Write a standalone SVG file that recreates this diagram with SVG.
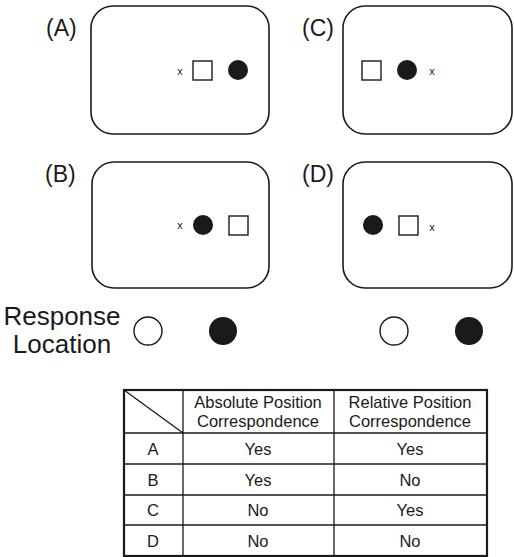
<svg xmlns="http://www.w3.org/2000/svg" width="514" height="557" viewBox="0 0 514 557">
<style>
text{font-family:"Liberation Sans",Arial,sans-serif;fill:#1a1a1a}
.lbl{font-size:23px}
.x{font-size:11px;text-anchor:middle}
.screen{fill:none;stroke:#1a1a1a;stroke-width:1.6}
.sq{fill:#fff;stroke:#1a1a1a;stroke-width:1.4}
.dot{fill:#1a1a1a}
.open{fill:#fff;stroke:#1a1a1a;stroke-width:1.4}
.resp{font-size:26px;text-anchor:middle}
.th{font-size:16.5px;text-anchor:middle}
.td{font-size:16.5px;text-anchor:middle}
.grid{stroke:#1a1a1a;stroke-width:1.3;fill:none}
</style>
<rect width="514" height="557" fill="#fff"/>
<g id="panelA">
<text class="lbl" x="46" y="36">(A)</text>
<rect class="screen" x="91" y="6" width="178" height="128" rx="22"/>
<text class="x" x="180" y="75">x</text>
<rect class="sq" x="193" y="61" width="19" height="19"/>
<circle class="dot" cx="238" cy="70" r="10"/>
</g>
<g id="panelB">
<text class="lbl" x="45" y="182">(B)</text>
<rect class="screen" x="92" y="162" width="177" height="126" rx="22"/>
<text class="x" x="180" y="229">x</text>
<circle class="dot" cx="203" cy="225" r="10"/>
<rect class="sq" x="229" y="216" width="19" height="19"/>
</g>
<g id="panelC">
<text class="lbl" x="302" y="36">(C)</text>
<rect class="screen" x="343" y="6" width="169" height="128" rx="22"/>
<rect class="sq" x="362" y="61" width="19" height="19"/>
<circle class="dot" cx="407" cy="70" r="10"/>
<text class="x" x="432" y="75">x</text>
</g>
<g id="panelD">
<text class="lbl" x="302" y="182">(D)</text>
<rect class="screen" x="343" y="162" width="169" height="126" rx="22"/>
<circle class="dot" cx="373" cy="225" r="10"/>
<rect class="sq" x="399" y="216" width="19" height="19"/>
<text class="x" x="432" y="231">x</text>
</g>
<g id="response">
<text class="resp" x="62" y="325">Response</text>
<text class="resp" x="62" y="353">Location</text>
<circle class="open" cx="148" cy="331" r="14"/>
<circle class="dot" cx="223" cy="331" r="14"/>
<circle class="open" cx="394" cy="331" r="14"/>
<circle class="dot" cx="469" cy="331" r="14"/>
</g>
<g id="table">
<rect x="124" y="390" width="363" height="166" fill="none" stroke="#1a1a1a" stroke-width="2.2"/>
<line class="grid" x1="183" y1="390" x2="183" y2="556"/>
<line class="grid" x1="334" y1="390" x2="334" y2="556"/>
<line class="grid" x1="124" y1="433" x2="487" y2="433"/>
<line class="grid" x1="124" y1="464" x2="487" y2="464"/>
<line class="grid" x1="124" y1="495" x2="487" y2="495"/>
<line class="grid" x1="124" y1="525" x2="487" y2="525"/>
<line class="grid" x1="124" y1="390" x2="183" y2="433"/>
<text class="th" x="258" y="408">Absolute Position</text>
<text class="th" x="258" y="427">Correspondence</text>
<text class="th" x="410" y="408">Relative Position</text>
<text class="th" x="410" y="427">Correspondence</text>
<text class="td" x="153" y="455">A</text>
<text class="td" x="258" y="455">Yes</text>
<text class="td" x="410" y="455">Yes</text>
<text class="td" x="153" y="486">B</text>
<text class="td" x="258" y="486">Yes</text>
<text class="td" x="410" y="486">No</text>
<text class="td" x="153" y="516">C</text>
<text class="td" x="258" y="516">No</text>
<text class="td" x="410" y="516">Yes</text>
<text class="td" x="153" y="547">D</text>
<text class="td" x="258" y="547">No</text>
<text class="td" x="410" y="547">No</text>
</g>
</svg>
